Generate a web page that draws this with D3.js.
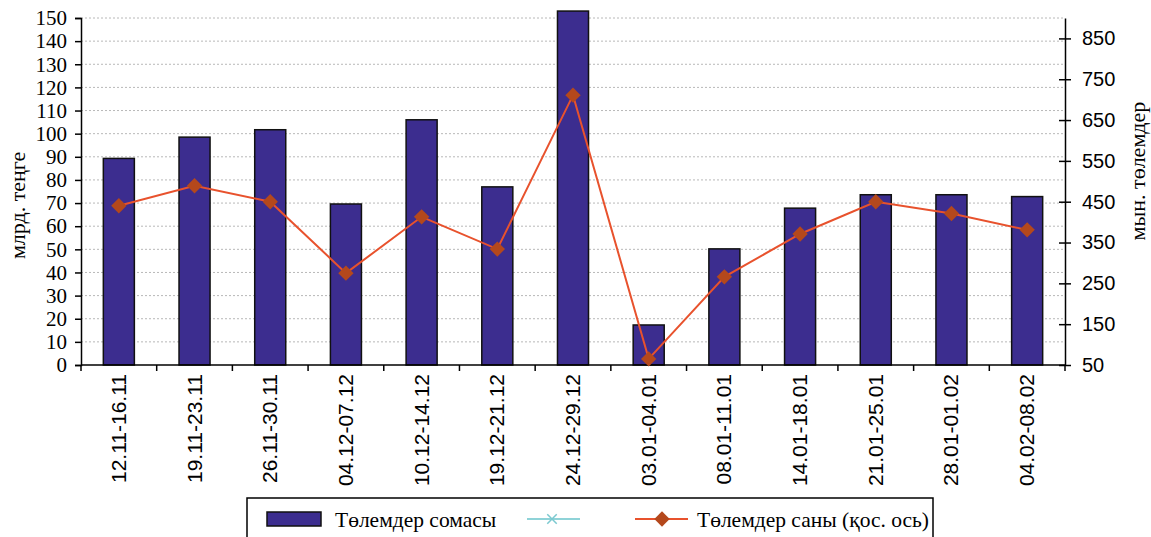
<!DOCTYPE html>
<html>
<head>
<meta charset="utf-8">
<script src="https://cdn.jsdelivr.net/npm/d3@7"></script>
<style>
  body { margin: 0; background: #fff; }
  svg { display: block; }
  .serif { font-family: "Liberation Serif", "DejaVu Serif", "Times New Roman", serif; }
  .sans { font-family: "Liberation Sans", Arial, sans-serif; }
</style>
</head>
<body>
<script>
const categories = ["12.11-16.11", "19.11-23.11", "26.11-30.11", "04.12-07.12", "10.12-14.12",
  "19.12-21.12", "24.12-29.12", "03.01-04.01", "08.01-11.01", "14.01-18.01",
  "21.01-25.01", "28.01-01.02", "04.02-08.02"];
// млрд. теңге
const paymentSum = [89.3, 98.5, 101.7, 69.6, 106, 77, 153, 17.3, 50.2, 67.8, 73.6, 73.6, 72.8];
// мың. төлемдер (қос. ось)
const paymentCount = [440, 489, 450, 275, 413, 334, 711, 65, 266, 371, 450, 421, 381];
const leftTicks = d3.range(0, 151, 10);
const rightTicks = [50, 150, 250, 350, 450, 550, 650, 750, 850];

const width = 1151, height = 537;
const margin = { top: 18, right: 86, bottom: 172, left: 81 };
const innerW = width - margin.left - margin.right;
const innerH = height - margin.top - margin.bottom;

const svg = d3.select("body").append("svg")
  .attr("width", width)
  .attr("height", height);

const x = d3.scaleBand()
  .domain(categories)
  .range([margin.left, margin.left + innerW])
  .paddingInner(0.59)
  .paddingOuter(0.295);

const yL = d3.scaleLinear().domain([0, 150]).range([margin.top + innerH, margin.top]);
const yR = d3.scaleLinear().domain([50, 900]).range([margin.top + innerH, margin.top]);

// сетка
svg.append("g")
  .selectAll("line")
  .data(leftTicks.filter(d => d > 0))
  .join("line")
  .attr("x1", margin.left)
  .attr("x2", margin.left + innerW)
  .attr("y1", d => yL(d))
  .attr("y2", d => yL(d))
  .attr("stroke", "#b8b8b8")
  .attr("stroke-width", 1)
  .attr("stroke-dasharray", "2,2");

// бағандар
svg.append("g")
  .selectAll("rect")
  .data(paymentSum)
  .join("rect")
  .attr("x", (d, i) => x(categories[i]))
  .attr("width", x.bandwidth())
  .attr("y", d => yL(d))
  .attr("height", d => yL(0) - yL(d))
  .attr("fill", "#3c2d8f")
  .attr("stroke", "#111")
  .attr("stroke-width", 1.5);

// сол жақ ось
svg.append("g")
  .attr("transform", `translate(${margin.left},0)`)
  .call(d3.axisLeft(yL).tickValues(leftTicks).tickSize(6).tickPadding(8))
  .attr("font-family", null)
  .attr("font-size", null)
  .call(g => g.selectAll("path, line").attr("stroke", "#000").attr("stroke-width", 1.5))
  .call(g => g.selectAll("text")
    .attr("class", "serif")
    .style("font-size", "21px")
    .attr("fill", "#000"));

// оң жақ ось
svg.append("g")
  .attr("transform", `translate(${margin.left + innerW},0)`)
  .call(d3.axisRight(yR).tickValues(rightTicks).tickSize(6).tickPadding(11).tickSizeOuter(0))
  .attr("font-family", null)
  .attr("font-size", null)
  .call(g => g.selectAll("path, line").attr("stroke", "#000").attr("stroke-width", 1.5))
  .call(g => g.selectAll(".tick line").attr("x1", -6))
  .call(g => g.selectAll("text")
    .attr("class", "sans")
    .style("font-size", "20px")
    .attr("fill", "#000"));

// x ось
const xAxisG = svg.append("g")
  .attr("transform", `translate(0,${margin.top + innerH})`);
xAxisG.append("line")
  .attr("x1", margin.left).attr("x2", margin.left + innerW)
  .attr("stroke", "#000").attr("stroke-width", 1.5);
xAxisG.selectAll("line.tk")
  .data(d3.range(categories.length + 1))
  .join("line")
  .attr("class", "tk")
  .attr("x1", i => margin.left + i * innerW / categories.length)
  .attr("x2", i => margin.left + i * innerW / categories.length)
  .attr("y1", 0).attr("y2", 6)
  .attr("stroke", "#000").attr("stroke-width", 1.5);
xAxisG.selectAll("text")
  .data(categories)
  .join("text")
  .attr("class", "sans")
  .attr("transform", d => `translate(${x(d) + x.bandwidth() / 2 + 7},9) rotate(-90)`)
  .attr("text-anchor", "end")
  .style("font-size", "21px")
  .text(d => d);

// сызық
const line = d3.line()
  .x((d, i) => x(categories[i]) + x.bandwidth() / 2)
  .y(d => yR(d));
svg.append("path")
  .attr("d", line(paymentCount))
  .attr("fill", "none")
  .attr("stroke", "#e8522d")
  .attr("stroke-width", 2);

const diamond = d3.symbol().type(d3.symbolDiamond2).size(150);
svg.append("g")
  .selectAll("path")
  .data(paymentCount)
  .join("path")
  .attr("d", diamond)
  .attr("transform", (d, i) => `translate(${x(categories[i]) + x.bandwidth() / 2},${yR(d)})`)
  .attr("fill", "#b4481c");

// ось атаулары
svg.append("text")
  .attr("class", "serif")
  .attr("transform", `translate(25,${yL(69)}) rotate(-90)`)
  .attr("text-anchor", "middle")
  .style("font-size", "22px")
  .text("млрд. теңге");
svg.append("text")
  .attr("class", "serif")
  .attr("transform", `translate(1145,${yR(525)}) rotate(-90)`)
  .attr("text-anchor", "middle")
  .style("font-size", "22px")
  .text("мын. төлемдер");

// легенда
const lg = svg.append("g");
lg.append("rect")
  .attr("x", 247).attr("y", 498)
  .attr("width", 686).attr("height", 50)
  .attr("fill", "#fff").attr("stroke", "#000").attr("stroke-width", 1.5);
lg.append("rect")
  .attr("x", 267).attr("y", 512)
  .attr("width", 54).attr("height", 14)
  .attr("fill", "#3c2d8f").attr("stroke", "#111").attr("stroke-width", 1.5);
lg.append("text")
  .attr("class", "serif")
  .attr("x", 335).attr("y", 527)
  .style("font-size", "21.5px")
  .text("Төлемдер сомасы");
lg.append("line")
  .attr("x1", 527).attr("x2", 580).attr("y1", 519).attr("y2", 519)
  .attr("stroke", "#8fd3d8").attr("stroke-width", 2);
lg.append("path")
  .attr("d", d3.symbol().type(d3.symbolX).size(60))
  .attr("transform", "translate(552,519)")
  .attr("fill", "none").attr("stroke", "#7cc9d0").attr("stroke-width", 1.5);
lg.append("line")
  .attr("x1", 635).attr("x2", 688).attr("y1", 519).attr("y2", 519)
  .attr("stroke", "#e8522d").attr("stroke-width", 2);
lg.append("path")
  .attr("d", diamond)
  .attr("transform", "translate(662,519)")
  .attr("fill", "#b4481c");
lg.append("text")
  .attr("class", "serif")
  .attr("x", 697).attr("y", 527)
  .style("font-size", "21.5px")
  .text("Төлемдер саны (қос. ось)");
</script>
</body>
</html>
